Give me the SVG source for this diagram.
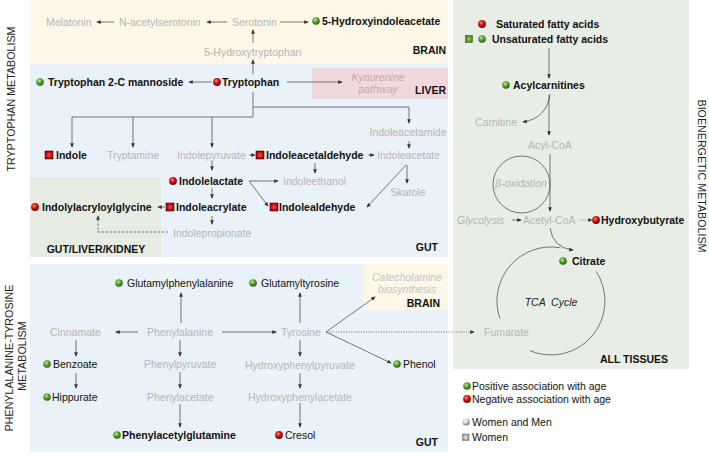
<svg xmlns="http://www.w3.org/2000/svg" width="709" height="457" viewBox="0 0 709 457">
<style>
text{font-family:"Liberation Sans",Arial,sans-serif;font-size:10.5px}
.g{fill:#b5b5b5}
.b{font-weight:bold;fill:#111}
.k{fill:#111}
.i{font-style:italic}
.v{font-size:10.7px;fill:#222;text-anchor:middle}
.e{text-anchor:end}
.m{text-anchor:middle}
.ln{fill:none;stroke:#555;stroke-width:0.8}
.arr{marker-end:url(#ah)}
.cyc{fill:none;stroke:#555;stroke-width:0.8}
</style>
<defs>
<marker id="ah" viewBox="0 0 6 6" refX="5" refY="3" markerWidth="4.5" markerHeight="4.5" orient="auto" markerUnits="userSpaceOnUse"><path d="M0,0.5 L6,3 L0,5.5 z" fill="#333"/></marker>
<radialGradient id="gg" cx="40%" cy="35%" r="65%"><stop offset="0" stop-color="#c4ec9a"/><stop offset="0.45" stop-color="#5fa533"/><stop offset="1" stop-color="#2a5e12"/></radialGradient>
<radialGradient id="rg" cx="40%" cy="35%" r="65%"><stop offset="0" stop-color="#ff8a78"/><stop offset="0.45" stop-color="#d11a1a"/><stop offset="1" stop-color="#6e0000"/></radialGradient>
<radialGradient id="wg" cx="40%" cy="35%" r="65%"><stop offset="0" stop-color="#ffffff"/><stop offset="0.5" stop-color="#d0d0d0"/><stop offset="1" stop-color="#707070"/></radialGradient>
<radialGradient id="rs" cx="50%" cy="50%" r="60%"><stop offset="0" stop-color="#f04a3a"/><stop offset="0.6" stop-color="#c01515"/><stop offset="1" stop-color="#700000"/></radialGradient>
<radialGradient id="gs" cx="50%" cy="50%" r="60%"><stop offset="0" stop-color="#9fd070"/><stop offset="0.6" stop-color="#5a9a30"/><stop offset="1" stop-color="#2f5f15"/></radialGradient>
<radialGradient id="ws" cx="50%" cy="50%" r="60%"><stop offset="0" stop-color="#f0f0f0"/><stop offset="0.6" stop-color="#b0b0b0"/><stop offset="1" stop-color="#707070"/></radialGradient>
<circle id="gb" r="3.8" fill="url(#gg)"/>
<circle id="rb" r="3.9" fill="url(#rg)"/>
<rect id="rq" x="-4" y="-4" width="8" height="8" fill="url(#rs)" stroke="#6a0000" stroke-width="0.6"/>
</defs>

<g id="panels">
<rect x="30" y="0" width="418" height="64" fill="#fdf7e7"/>
<rect x="30" y="64" width="418" height="193" fill="#e9f1f9"/>
<rect x="312" y="68" width="136" height="31" fill="#f1d8dc"/>
<rect x="30" y="178" width="131" height="79" fill="#e6ece1"/>
<rect x="30" y="264" width="418" height="188" fill="#e9f1f9"/>
<rect x="364" y="264" width="84" height="46" fill="#fdf7e7"/>
<rect x="453" y="0" width="236" height="369" fill="#e8eee5"/>
</g>

<g id="section-labels">
<text class="v" transform="translate(15,99) rotate(-90)">TRYPTOPHAN METABOLISM</text>
<text class="v" transform="translate(13,358) rotate(-90)">PHENYLALANINE-TYROSINE</text>
<text class="v" transform="translate(25.5,356) rotate(-90)">METABOLISM</text>
<text class="v" transform="translate(698,176) rotate(90)">BIOENERGETIC METABOLISM</text>
<text class="b e" x="446" y="54">BRAIN</text>
<text class="b e" x="446" y="94">LIVER</text>
<text class="b m" x="96" y="253">GUT/LIVER/KIDNEY</text>
<text class="b e" x="438" y="251">GUT</text>
<text class="b e" x="440" y="307">BRAIN</text>
<text class="b e" x="438" y="446">GUT</text>
<text class="b e" x="668" y="363">ALL TISSUES</text>
</g>

<g id="connectors">
<line class="ln arr" x1="114" y1="22" x2="97" y2="22"/>
<line class="ln arr" x1="227" y1="22" x2="207" y2="22"/>
<line class="ln arr" x1="280" y1="22" x2="308" y2="22"/>
<line class="ln arr" x1="253" y1="43" x2="253" y2="30"/>
<line class="ln arr" x1="253" y1="74" x2="253" y2="60"/>
<line class="ln arr" x1="212" y1="82" x2="189" y2="82"/>
<line class="ln arr" x1="287" y1="82" x2="342" y2="82"/>
<path class="ln" d="M253,92 V117 H72"/>
<line class="ln arr" x1="72" y1="117" x2="72" y2="147"/>
<line class="ln arr" x1="133" y1="117" x2="133" y2="147"/>
<line class="ln arr" x1="212" y1="117" x2="212" y2="147"/>
<path class="ln arr" d="M253,107 H409 V123"/>
<line class="ln arr" x1="409" y1="141" x2="409" y2="148"/>
<line class="ln arr" x1="249" y1="155" x2="255" y2="155"/>
<line class="ln arr" x1="368" y1="155" x2="374" y2="155"/>
<line class="ln arr" x1="212" y1="161" x2="212" y2="170"/>
<line class="ln arr" x1="315" y1="163" x2="315" y2="173"/>
<line class="ln arr" x1="249" y1="181" x2="278" y2="181"/>
<line class="ln arr" x1="249" y1="181" x2="268" y2="206"/>
<line class="ln arr" x1="406" y1="165" x2="367" y2="207"/>
<line class="ln arr" x1="407" y1="165" x2="407" y2="183"/>
<line class="ln arr" x1="212" y1="188" x2="212" y2="198"/>
<line class="ln arr" x1="165" y1="207" x2="158" y2="207"/>
<line class="ln arr" x1="212" y1="216" x2="212" y2="224"/>
<path class="ln arr" d="M168,232 H98 V216" stroke="#444" stroke-dasharray="2.5,1.5"/>

<line class="ln arr" x1="181" y1="323" x2="181" y2="293"/>
<line class="ln arr" x1="300" y1="323" x2="300" y2="293"/>
<line class="ln arr" x1="138" y1="332" x2="116" y2="332"/>
<line class="ln arr" x1="222" y1="332" x2="276" y2="332"/>
<line class="ln arr" x1="326" y1="332" x2="375" y2="297"/>
<line class="ln arr" x1="326" y1="332" x2="391" y2="363"/>
<line class="ln arr" x1="326" y1="332" x2="474" y2="332" stroke="#999" stroke-dasharray="1,1.5"/>
<line class="ln arr" x1="76" y1="340" x2="76" y2="356"/>
<line class="ln arr" x1="76" y1="373" x2="76" y2="388"/>
<line class="ln arr" x1="180" y1="340" x2="180" y2="356"/>
<line class="ln arr" x1="180" y1="372" x2="180" y2="388"/>
<line class="ln arr" x1="180" y1="404" x2="180" y2="427"/>
<line class="ln arr" x1="300" y1="340" x2="300" y2="356"/>
<line class="ln arr" x1="300" y1="373" x2="300" y2="388"/>
<line class="ln arr" x1="300" y1="403" x2="300" y2="427"/>

<line class="ln arr" x1="549" y1="48" x2="549" y2="78"/>
<path class="ln arr" d="M550,94 Q547,118 523,122"/>
<line class="ln arr" x1="549" y1="95" x2="549" y2="135"/>
<line class="ln arr" x1="550" y1="154" x2="550" y2="211"/>
<line class="ln arr" x1="512" y1="220" x2="521" y2="220"/>
<line class="ln arr" x1="580" y1="220" x2="592" y2="220" stroke-dasharray="1,1.5"/>
<path class="ln arr" d="M550,228 Q553,248 573,250"/>
<circle class="cyc" cx="521.5" cy="184.5" r="28.5"/>
<path class="cyc" d="M596.3,271.6 A54,54 0 0 1 529.9,350.7"/>
<path class="cyc" d="M499.9,318.6 A54,54 0 0 1 560.4,247.8"/>
</g>

<g id="melatonin"><text class="g" x="46" y="26">Melatonin</text></g>
<g id="n-acetylserotonin"><text class="g" x="119" y="26">N-acetylserotonin</text></g>
<g id="serotonin"><text class="g" x="232" y="26">Serotonin</text></g>
<g id="hiaa"><use href="#gb" x="316" y="21"/><text class="b" x="322" y="25">5-Hydroxyindoleacetate</text></g>
<g id="htp"><text class="g" x="204" y="56">5-Hydroxytryptophan</text></g>
<g id="mannoside"><use href="#gb" x="40" y="82"/><text class="b" x="48" y="86">Tryptophan 2-C mannoside</text></g>
<g id="tryptophan"><use href="#rb" x="217" y="82"/><text class="b" x="222" y="86">Tryptophan</text></g>
<g id="kynurenine"><text class="i m" x="378" y="81" fill="#c7a6ac">Kynurenine</text><text class="i m" x="378" y="93" fill="#c7a6ac">pathway</text></g>
<g id="indole"><use href="#rq" x="49" y="155"/><text class="b" x="56" y="159">Indole</text></g>
<g id="tryptamine"><text class="g" x="107" y="159">Tryptamine</text></g>
<g id="indolepyruvate"><text class="g" x="177" y="159">Indolepyruvate</text></g>
<g id="indoleacetaldehyde"><use href="#rq" x="260" y="155"/><text class="b" x="266" y="159">Indoleacetaldehyde</text></g>
<g id="indoleacetamide"><text class="g m" x="408" y="136">Indoleacetamide</text></g>
<g id="indoleacetate"><text class="g" x="377" y="159">Indoleacetate</text></g>
<g id="indolelactate"><use href="#rb" x="173" y="181"/><text class="b" x="179" y="185">Indolelactate</text></g>
<g id="indoleethanol"><text class="g" x="283" y="185">Indoleethanol</text></g>
<g id="skatole"><text class="g m" x="408" y="196">Skatole</text></g>
<g id="indolylacryloylglycine"><use href="#rb" x="35" y="207"/><text class="b" x="42" y="211">Indolylacryloylglycine</text></g>
<g id="indoleacrylate"><use href="#rq" x="170" y="207"/><text class="b" x="176" y="211">Indoleacrylate</text></g>
<g id="indolealdehyde"><use href="#rq" x="274" y="207"/><text class="b" x="279" y="211">Indolealdehyde</text></g>
<g id="indolepropionate"><text class="g" x="173" y="237">Indolepropionate</text></g>

<g id="glutamylphenylalanine"><use href="#gb" x="119" y="283"/><text class="k" x="127" y="287">Glutamylphenylalanine</text></g>
<g id="glutamyltyrosine"><use href="#gb" x="253" y="283"/><text class="k" x="261" y="287">Glutamyltyrosine</text></g>
<g id="catecholamine"><text class="i m" x="407" y="281" fill="#c4c4c4">Catecholamine</text><text class="i m" x="407" y="293" fill="#c4c4c4">biosynthesis</text></g>
<g id="cinnamate"><text class="g" x="50" y="336">Cinnamate</text></g>
<g id="phenylalanine"><text class="g" x="147" y="336">Phenylalanine</text></g>
<g id="tyrosine"><text class="g" x="281" y="336">Tyrosine</text></g>
<g id="benzoate"><use href="#gb" x="47" y="364"/><text class="k" x="53" y="368">Benzoate</text></g>
<g id="hippurate"><use href="#gb" x="47" y="397"/><text class="k" x="52" y="401">Hippurate</text></g>
<g id="phenylpyruvate"><text class="g" x="144" y="368">Phenylpyruvate</text></g>
<g id="phenylacetate"><text class="g" x="147" y="401">Phenylacetate</text></g>
<g id="pag"><use href="#gb" x="117" y="435"/><text class="b" x="122" y="439">Phenylacetylglutamine</text></g>
<g id="hpp"><text class="g" x="245" y="369">Hydroxyphenylpyruvate</text></g>
<g id="hpa"><text class="g" x="248" y="401">Hydroxyphenylacetate</text></g>
<g id="cresol"><use href="#rb" x="279" y="435"/><text class="k" x="285" y="439">Cresol</text></g>
<g id="phenol"><use href="#gb" x="397" y="364"/><text class="k" x="403" y="368">Phenol</text></g>

<g id="saturated"><use href="#rb" x="482" y="24"/><text class="b" x="496" y="28">Saturated fatty acids</text></g>
<g id="unsaturated"><rect x="465.5" y="35.5" width="7" height="7" fill="url(#gs)" stroke="#2f5f15" stroke-width="0.5"/><use href="#gb" x="482" y="39"/><text class="b" x="492" y="43">Unsaturated fatty acids</text></g>
<g id="acylcarnitines"><use href="#gb" x="506" y="85"/><text class="b" x="513" y="89">Acylcarnitines</text></g>
<g id="carnitine"><text class="g" x="475" y="126">Carnitine</text></g>
<g id="acyl-coa"><text class="g m" x="550" y="149">Acyl-CoA</text></g>
<g id="beta-oxidation"><text class="g i m" x="521" y="187">β-oxidation</text></g>
<g id="glycolysis"><text class="g i" x="457" y="224">Glycolysis</text></g>
<g id="acetyl-coa"><text class="g" x="523" y="224">Acetyl-CoA</text></g>
<g id="hydroxybutyrate"><use href="#rb" x="596" y="220"/><text class="b" x="601" y="224">Hydroxybutyrate</text></g>
<g id="citrate"><use href="#gb" x="563" y="261"/><text class="b" x="572" y="265">Citrate</text></g>
<g id="tca"><text class="i m" x="551" y="306" fill="#222" xml:space="preserve">TCA  Cycle</text></g>
<g id="fumarate"><text class="g" x="484" y="336">Fumarate</text></g>

<g id="legend">
<use href="#gb" x="467" y="386"/><text class="k" x="472" y="390">Positive association with age</text>
<use href="#rb" x="467" y="399"/><text class="k" x="472" y="403">Negative association with age</text>
<circle cx="466" cy="422" r="3.6" fill="url(#wg)"/><text class="k" x="472" y="426">Women and Men</text>
<rect x="462.5" y="434" width="6.5" height="6.5" fill="url(#ws)" stroke="#777" stroke-width="0.5"/><text class="k" x="472" y="441">Women</text>
</g>
</svg>
